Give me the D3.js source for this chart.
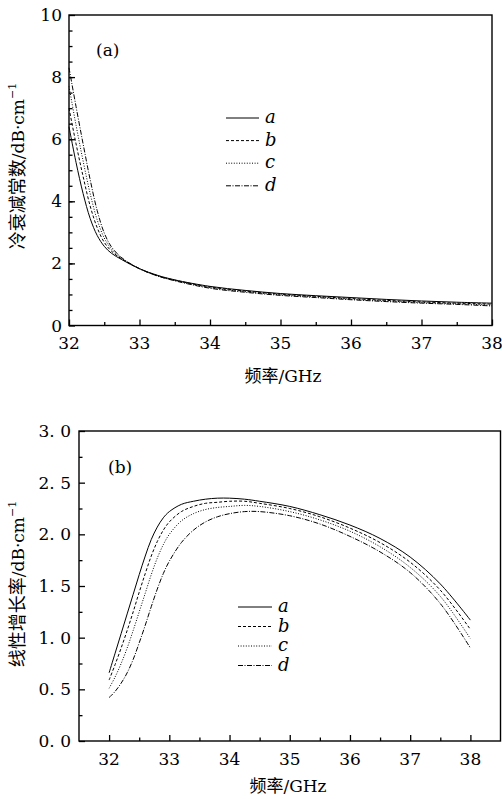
<!DOCTYPE html>
<html>
<head>
<meta charset="utf-8">
<script src="https://cdn.jsdelivr.net/npm/d3@7"></script>
<style>
  body { margin: 0; background: #fff; }
  text { fill: #000; }
  .serif { font-family: "DejaVu Serif", "Liberation Serif", serif; }
  .cjk { font-family: "Noto Sans CJK SC", sans-serif; }
</style>
</head>
<body>
<div id="chart"></div>
<script>
// (a) cold attenuation constant, dB/cm
const freqA = [32, 32.1, 32.2, 32.3, 32.4, 32.5, 32.6, 32.75, 33, 33.25, 33.5, 34, 34.5, 35, 35.5, 36, 36.5, 37, 37.5, 38];
const coldA = [6.4, 5.25, 4.25, 3.45, 2.9, 2.55, 2.33, 2.12, 1.83, 1.62, 1.47, 1.26, 1.13, 1.03, 0.96, 0.9, 0.84, 0.79, 0.75, 0.72];
const coldB = [7.0, 5.85, 4.8, 3.85, 3.15, 2.68, 2.4, 2.14, 1.83, 1.61, 1.46, 1.24, 1.11, 1.01, 0.94, 0.87, 0.81, 0.76, 0.72, 0.69];
const coldC = [7.7, 6.45, 5.3, 4.25, 3.4, 2.82, 2.47, 2.16, 1.83, 1.6, 1.45, 1.22, 1.09, 0.99, 0.92, 0.85, 0.79, 0.74, 0.7, 0.66];
const coldD = [8.3, 7.05, 5.85, 4.7, 3.7, 2.98, 2.54, 2.18, 1.83, 1.6, 1.44, 1.2, 1.07, 0.97, 0.9, 0.83, 0.77, 0.72, 0.68, 0.63];

// (b) linear growth rate, dB/cm
const freqB = [32, 32.1, 32.2, 32.3, 32.4, 32.5, 32.6, 32.7, 32.8, 32.9, 33, 33.2, 33.4, 33.6, 33.8, 34, 34.25, 34.5, 35, 35.5, 36, 36.5, 37, 37.5, 38];
const gainA = [0.66, 0.85, 1.04, 1.23, 1.42, 1.61, 1.79, 1.95, 2.07, 2.16, 2.22, 2.29, 2.32, 2.34, 2.35, 2.35, 2.34, 2.32, 2.27, 2.19, 2.09, 1.96, 1.78, 1.52, 1.17];
const gainB = [0.59, 0.74, 0.9, 1.07, 1.25, 1.44, 1.62, 1.79, 1.93, 2.04, 2.12, 2.22, 2.27, 2.3, 2.31, 2.32, 2.32, 2.3, 2.25, 2.17, 2.06, 1.92, 1.73, 1.46, 1.08];
const gainC = [0.51, 0.62, 0.75, 0.9, 1.07, 1.25, 1.43, 1.61, 1.77, 1.9, 2.0, 2.13, 2.2, 2.24, 2.26, 2.27, 2.28, 2.27, 2.22, 2.14, 2.03, 1.88, 1.68, 1.4, 0.99];
const gainD = [0.42, 0.48, 0.56, 0.66, 0.79, 0.95, 1.12, 1.3, 1.47, 1.62, 1.74, 1.92, 2.04, 2.12, 2.17, 2.2, 2.22, 2.22, 2.18, 2.1, 1.98, 1.83, 1.63, 1.33, 0.9];

const seriesNames = ["a", "b", "c", "d"];
const dashes = [null, "3,2", "1,1.6", "5,1.5,1,1.5"];

const svg = d3.select("#chart")
  .append("svg")
  .attr("width", 502)
  .attr("height", 799);

function drawPanel(opt) {
  const x = d3.scaleLinear().domain(opt.xDomain).range(opt.xRange);
  const y = d3.scaleLinear().domain(opt.yDomain).range(opt.yRange);
  const g = svg.append("g");

  // frame
  g.append("rect")
    .attr("x", opt.xRange[0])
    .attr("y", opt.yRange[1])
    .attr("width", opt.xRange[1] - opt.xRange[0])
    .attr("height", opt.yRange[0] - opt.yRange[1])
    .attr("fill", "none")
    .attr("stroke", "#000")
    .attr("stroke-width", 1.4);

  // ticks (inward)
  const xAxis = d3.axisBottom(x).tickValues(opt.xMinor).tickSize(-3.5).tickFormat("");
  const xAxisMajor = d3.axisBottom(x).tickValues(opt.xMajor).tickSize(-6).tickFormat("");
  const yAxis = d3.axisLeft(y).tickValues(opt.yMinor).tickSize(-3.5).tickFormat("");
  const yAxisMajor = d3.axisLeft(y).tickValues(opt.yMajor).tickSize(-6).tickFormat("");

  [xAxis, xAxisMajor].forEach(ax => {
    g.append("g")
      .attr("transform", `translate(0,${opt.yRange[0]})`)
      .call(ax)
      .call(s => s.select(".domain").remove())
      .selectAll("line").attr("stroke-width", 1.3);
  });
  [yAxis, yAxisMajor].forEach(ax => {
    g.append("g")
      .attr("transform", `translate(${opt.xRange[0]},0)`)
      .call(ax)
      .call(s => s.select(".domain").remove())
      .selectAll("line").attr("stroke-width", 1.3);
  });

  // tick labels
  g.selectAll(".xl")
    .data(opt.xMajor)
    .enter()
    .append("text")
    .attr("class", "serif")
    .attr("x", d => x(d))
    .attr("y", opt.yRange[0] + opt.xLabelDy)
    .attr("text-anchor", "middle")
    .attr("font-size", 17)
    .text(d => d);

  g.selectAll(".yl")
    .data(opt.yMajor)
    .enter()
    .append("text")
    .attr("class", "serif")
    .attr("x", opt.yLabelX)
    .attr("y", d => y(d) + 6)
    .attr("text-anchor", "end")
    .attr("font-size", 17)
    .text(opt.yFormat);

  // curves
  const line = d3.line()
    .x(d => x(d[0]))
    .y(d => y(d[1]))
    .curve(d3.curveCatmullRom.alpha(0.5));

  opt.series.forEach((vals, i) => {
    g.append("path")
      .attr("d", line(opt.freq.map((f, k) => [f, vals[k]])))
      .attr("fill", "none")
      .attr("stroke", "#000")
      .attr("stroke-width", 1)
      .attr("stroke-dasharray", dashes[i]);
  });

  // legend
  seriesNames.forEach((name, i) => {
    const ly = opt.legend.y + i * opt.legend.step;
    g.append("path")
      .attr("d", d3.line()([[opt.legend.x0, ly], [opt.legend.x1, ly]]))
      .attr("stroke", "#000")
      .attr("stroke-width", 1)
      .attr("stroke-dasharray", dashes[i]);
    g.append("text")
      .attr("class", "serif")
      .attr("x", opt.legend.x1 + 6)
      .attr("y", ly + 5)
      .attr("font-style", "italic")
      .attr("font-size", 18)
      .text(name);
  });

  // panel tag
  g.append("text")
    .attr("class", "serif")
    .attr("x", opt.tag.x)
    .attr("y", opt.tag.y)
    .attr("font-size", 17)
    .text(opt.tag.text);

  // x title
  const xt = g.append("text")
    .attr("x", opt.xTitle.x)
    .attr("y", opt.xTitle.y)
    .attr("text-anchor", "middle")
    .attr("font-size", 17);
  xt.append("tspan").attr("class", "cjk").attr("font-size", 17).text("频率");
  xt.append("tspan").attr("class", "serif").text("/GHz");

  // y title
  const yt = g.append("text")
    .attr("transform", `translate(${opt.yTitle.x},${opt.yTitle.y}) rotate(-90)`)
    .attr("text-anchor", "middle")
    .attr("font-size", 17);
  yt.append("tspan").attr("class", "cjk").attr("font-size", 18).text(opt.yTitle.text);
  yt.append("tspan").attr("class", "serif").text("/dB·cm");
  yt.append("tspan").attr("class", "serif").attr("font-size", 11)
    .attr("dy", -8).text("−1");
}

drawPanel({
  xDomain: [32, 38], xRange: [69, 492],
  yDomain: [0, 10], yRange: [325.5, 15],
  xMajor: d3.range(32, 38.01, 1),
  xMinor: d3.range(32.5, 38, 1),
  yMajor: d3.range(0, 10.01, 2),
  yMinor: d3.range(0.5, 10, 0.5),
  yFormat: d => d,
  xLabelDy: 23, yLabelX: 62,
  freq: freqA,
  series: [coldA, coldB, coldC, coldD],
  legend: { x0: 226, x1: 259, y: 118, step: 22.6 },
  tag: { x: 96, y: 56, text: "(a)" },
  xTitle: { x: 283, y: 382 },
  yTitle: { x: 24, y: 166, text: "冷衰减常数" }
});

drawPanel({
  xDomain: [31.5, 38.5], xRange: [79, 500.5],
  yDomain: [0, 3], yRange: [741, 431],
  xMajor: d3.range(32, 38.01, 1),
  xMinor: d3.range(32.5, 38, 1),
  yMajor: d3.range(0, 3.01, 0.5),
  yMinor: d3.range(0.25, 3, 0.5),
  yFormat: d => d3.format(".1f")(d).replace(".", ". "),
  xLabelDy: 24, yLabelX: 71,
  freq: freqB,
  series: [gainA, gainB, gainC, gainD],
  legend: { x0: 238, x1: 272, y: 607, step: 19.5 },
  tag: { x: 108, y: 473, text: "(b)" },
  xTitle: { x: 288, y: 792 },
  yTitle: { x: 24, y: 584, text: "线性增长率" }
});
</script>
</body>
</html>
